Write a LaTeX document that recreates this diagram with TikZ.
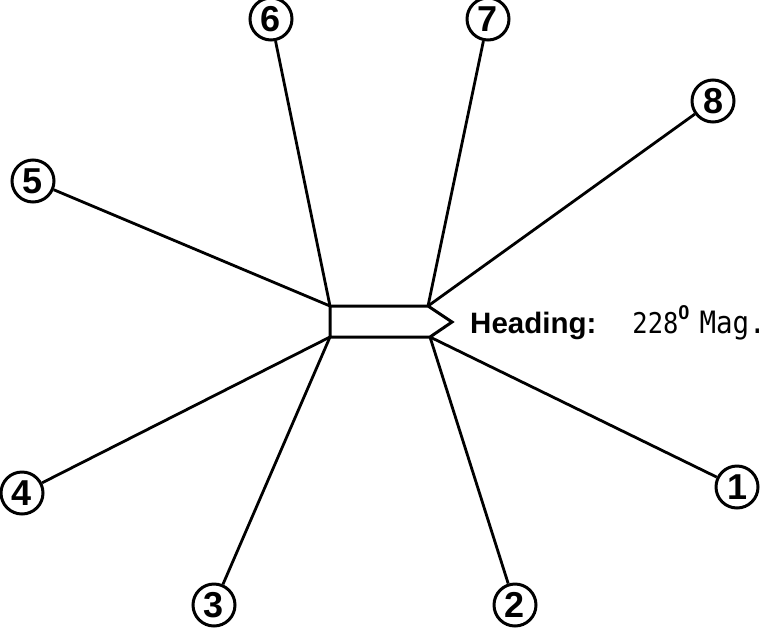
\documentclass[tikz,border=0pt]{standalone}
\usepackage{fontspec}
\setmainfont{Liberation Sans}
\newfontfamily\monofam{DejaVu Sans Mono}
\begin{document}
\begin{tikzpicture}[x=1pt,y=-1pt,
  num/.style={circle,draw,line width=3pt,minimum size=42pt,inner sep=0pt,font=\fontsize{36}{36}\selectfont\bfseries},
  spoke/.style={line width=2.8pt},
  hull/.style={line width=3pt,line join=miter}]
\useasboundingbox (0,0) rectangle (778,627);
% body corners
\coordinate (tl) at (330,306);
\coordinate (tr) at (428,306);
\coordinate (tip) at (452,322);
\coordinate (br) at (430,337);
\coordinate (bl) at (330,337);
\draw[hull] (tl) -- (tr) -- (tip) -- (br) -- (bl) -- cycle;
% numbered circles
\node[num] (n6) at (271,19) {6};
\node[num] (n7) at (488,19) {7};
\node[num] (n8) at (713,101) {8};
\node[num] (n5) at (33,181) {5};
\node[num] (n4) at (22,493) {4};
\node[num] (n3) at (214,605) {3};
\node[num] (n2) at (515,605) {2};
\node[num] (n1) at (737,487) {1};
% spokes
\draw[spoke] (n6) -- (tl);
\draw[spoke] (n5) -- (tl);
\draw[spoke] (n7) -- (tr);
\draw[spoke] (n8) -- (tr);
\draw[spoke] (n4) -- (bl);
\draw[spoke] (n3) -- (bl);
\draw[spoke] (n2) -- (br);
\draw[spoke] (n1) -- (br);
% heading label
\node[anchor=base west,inner sep=0pt] (hd) at (470,333)
  {\fontsize{29.5}{29.5}\selectfont\bfseries Heading:\hspace{36pt}\scalebox{1}[1.12]{\monofam\mdseries\fontsize{25.5}{25.5}\selectfont 228}\raisebox{14pt}{\fontsize{20}{20}\selectfont\bfseries 0}\hspace{10pt}\scalebox{1}[1.12]{\monofam\mdseries\fontsize{27.5}{27.5}\selectfont Mag.}};
\end{tikzpicture}
\end{document}
